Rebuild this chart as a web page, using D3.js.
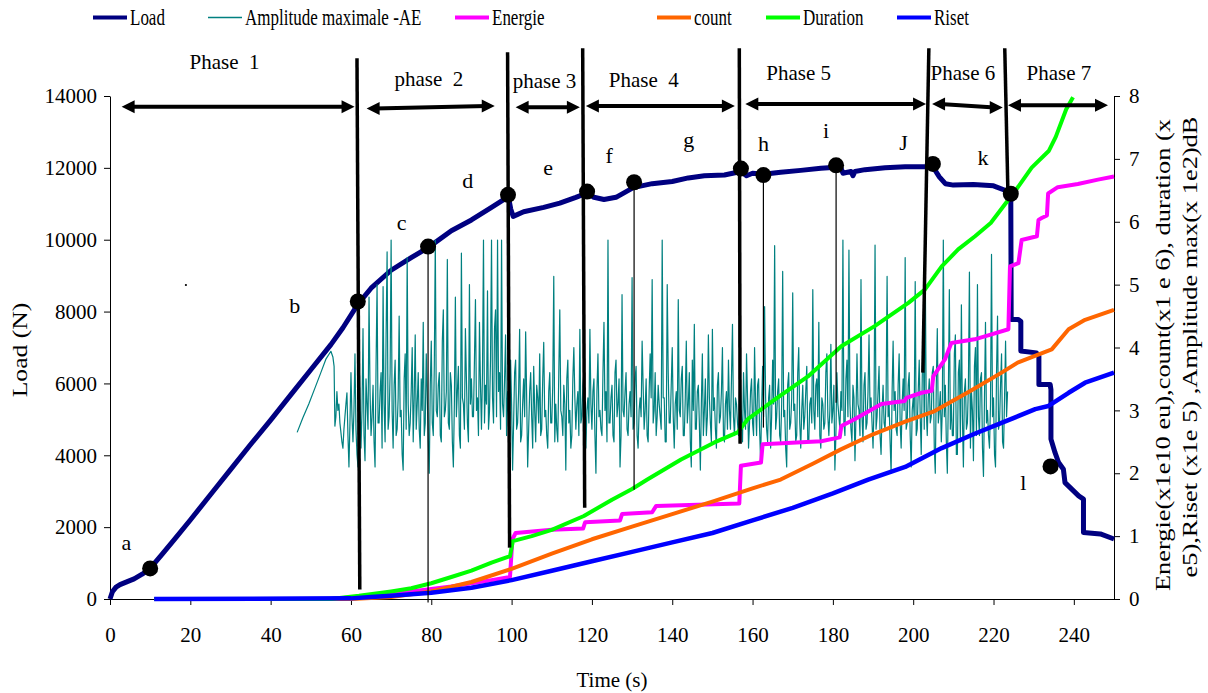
<!DOCTYPE html>
<html>
<head>
<meta charset="utf-8">
<script src="https://cdn.jsdelivr.net/npm/d3@7"></script>
<style>
  body { margin: 0; background: #fff; }
  text { font-family: "Liberation Serif", "Times New Roman", serif; fill: #000; }
</style>
</head>
<body>
<svg id="chart" width="1208" height="693"></svg>
<script>
// ---- data ----
var loadTime = [0, 0.6, 1.5, 2.5, 4, 6, 8, 10, 13, 16, 20, 25, 30, 35, 40, 45, 50, 55, 58, 61.7,
  65, 70, 75, 79.2, 85, 90, 95, 99.2, 99.8, 100.4, 103, 108, 112, 116, 118.8, 120.5, 123, 126,
  130.3, 135, 140, 144, 148, 153, 157.1, 158.5, 160, 162.7, 167, 172, 177, 180.8, 182, 182.5,
  184.5, 185, 185.5, 188, 193, 198, 204.9, 206.5, 208, 210, 215, 220, 223.5, 224.3, 224.4,
  226.1, 226.8, 226.8, 230.7, 231.3, 231.3, 234.1, 234.3, 234.3, 235.3, 236.2, 237.4, 237.8,
  241.2, 242.4, 242.4, 246.6, 250];
var loadValue = [0, 200, 330, 400, 470, 560, 690, 850, 1250, 1650, 2200, 2900, 3600, 4300, 4980,
  5680, 6380, 7080, 7550, 8200, 8650, 9150, 9500, 9780, 10250, 10550, 10900, 11200, 10850, 10650,
  10780, 10900, 11020, 11180, 11300, 11180, 11120, 11180, 11450, 11560, 11620, 11720, 11780,
  11800, 11900, 11780, 11850, 11820, 11880, 11930, 11990, 12020, 12000, 11850, 11900, 11780,
  11900, 11950, 12000, 12030, 12030, 11750, 11560, 11520, 11540, 11500, 11350, 11200, 7780,
  7780, 7730, 6900, 6850, 6760, 5970, 5970, 5830, 4450, 4080, 3800, 3610, 3240, 2870, 2780,
  1850, 1810, 1670];

// AE amplitude: a smooth start, then one sample every 0.25 s (rows of 5 s)
var aeRampTime = [46.6, 48, 49.5, 51, 52.5, 53.8, 55.0, 55.5, 55.8];
var aeRampValue = [2.65, 2.88, 3.1, 3.35, 3.6, 3.82, 3.94, 3.85, 3.7];
var aeStart = 56, aeStep = 0.25;
var aeValues = [
  2.75,2.9,3.3,3.0,3.1,2.8,2.65,2.5,2.4,2.7,2.9,3.1,3.28,2.6,2.1,2.8,3.6,2.9,2.5,3.0,
  3.9,2.7,2.3,2.1,3.9,3.2,2.4,3.0,4.3,2.6,2.2,3.5,3.1,2.7,4.8,3.3,2.6,2.9,3.4,2.5,
  2.1,3.7,5.0,2.8,2.8,3.3,3.6,2.4,4.97,3.1,2.5,4.2,5.52,2.7,2.9,3.6,5.71,3.0,2.4,3.4,
  3.8,2.6,2.7,3.2,4.5,2.9,3.0,2.3,2.05,3.5,3.9,2.7,5.43,3.1,2.6,2.8,3.3,4.0,2.5,3.2,
  4.2,2.7,3.1,3.6,2.7,2.4,3.5,3.0,4.4,2.6,2.8,3.9,3.2,2.5,2.0,3.4,4.1,2.8,2.6,3.7,
  5.71,3.0,2.9,3.4,3.6,2.6,2.5,4.1,4.6,2.9,3.0,3.3,5.4,2.8,2.7,3.6,3.4,2.5,2.1,3.1,
  4.8,2.9,3.3,3.7,2.6,2.4,5.5,3.2,3.1,2.7,4.3,3.5,2.8,2.5,5.0,3.1,3.5,2.9,2.9,3.8,
  4.76,3.0,3.2,2.6,4.4,3.4,2.7,3.6,5.71,2.8,3.4,3.1,4.9,2.7,3.0,3.8,5.71,3.2,2.8,4.3,
  4.6,2.9,5.71,3.3,3.6,2.7,5.71,3.1,2.9,3.5,4.2,2.6,3.3,2.9,2.6,3.8,3.1,2.05,2.8,3.6,
  3.8,2.7,2.8,3.3,4.29,2.5,2.6,3.1,3.5,2.9,4.25,3.2,2.1,2.7,3.3,3.6,2.9,2.4,3.7,3.0,
  2.5,3.4,3.2,2.8,3.9,2.6,2.7,3.5,4.08,2.9,3.0,2.6,2.4,3.3,3.6,2.8,2.8,3.4,5.13,2.5,
  3.1,2.7,2.5,3.6,4.6,3.0,2.9,2.6,3.4,3.1,2.05,3.5,3.8,2.8,3.0,2.4,2.6,3.5,4.0,3.2,
  2.7,3.1,3.3,2.6,4.29,2.8,2.9,3.4,3.6,2.5,2.4,3.0,3.2,2.8,4.29,3.1,2.7,3.3,3.5,2.6,
  2.0,3.3,3.9,2.9,3.0,2.7,2.6,3.6,4.4,3.0,3.3,2.5,5.71,2.8,2.8,3.2,3.4,2.6,2.5,3.6,
  3.8,2.9,3.1,3.5,2.1,2.6,4.84,3.0,2.9,3.3,3.6,2.7,2.6,3.1,3.3,2.9,5.11,2.7,2.8,3.5,
  3.7,2.6,2.4,3.0,3.2,2.9,4.1,3.4,2.7,3.0,3.5,2.6,2.5,3.3,3.9,3.2,5.08,2.8,3.0,3.6,
  2.6,2.9,3.4,3.1,2.9,2.7,5.71,3.2,3.2,2.5,2.5,5.0,3.6,2.8,2.8,3.4,4.0,2.9,2.4,3.1,
  3.3,2.7,4.76,3.0,2.9,3.5,3.7,2.6,2.6,3.2,4.1,2.8,3.1,3.6,2.5,2.1,3.8,3.0,4.37,2.7,
  2.7,3.3,3.4,2.8,2.05,3.1,3.9,2.6,3.0,3.5,2.6,2.9,4.2,3.2,2.8,2.5,4.29,3.0,3.2,2.7,
  2.4,3.4,3.6,2.8,2.9,3.3,4.0,2.6,2.5,3.1,3.3,2.7,3.8,3.0,2.7,3.5,4.37,2.9,2.6,3.2,
  3.1,2.8,2.6,3.3,3.4,2.9,2.5,3.6,3.0,2.7,3.9,3.2,2.4,2.8,3.3,3.5,2.8,2.6,4.0,3.1,
  2.6,3.4,3.5,2.7,2.2,3.0,3.7,2.9,4.65,3.2,2.7,2.5,3.2,3.4,2.4,2.9,3.8,3.1,5.62,2.7,
  2.9,3.3,3.5,2.6,2.5,3.1,5.21,2.9,3.0,2.4,2.1,3.4,3.6,2.7,2.8,3.2,4.87,3.0,3.1,2.5,
  2.6,3.6,4.0,2.8,2.4,3.0,3.4,2.7,2.9,3.3,3.7,2.5,2.5,3.1,3.2,2.8,4.92,3.0,2.7,3.4,
  3.5,2.9,4.4,2.6,2.4,3.2,3.1,2.7,2.8,3.6,3.9,2.9,2.6,3.0,4.05,2.8,3.0,3.4,2.05,2.6,
  3.6,3.1,2.9,2.7,3.3,3.0,5.71,2.8,2.6,3.5,3.8,2.9,5.55,3.1,2.7,2.5,3.4,3.2,2.2,2.9,
  3.9,3.1,3.0,2.6,5.08,2.9,2.5,3.4,3.6,2.7,2.8,3.3,4.2,3.0,3.2,2.8,2.4,3.1,5.63,2.7,
  2.9,3.3,3.7,2.6,2.3,3.0,3.4,2.8,2.7,3.2,5.13,2.9,3.1,2.5,2.0,3.3,4.1,3.0,3.3,2.7,
  2.6,3.4,3.9,2.8,2.4,3.1,3.5,3.0,5.43,2.7,2.8,3.4,3.6,2.6,2.1,3.0,3.2,2.9,5.05,2.6,
  2.7,3.3,3.8,2.9,2.3,3.5,4.4,2.7,5.27,3.0,2.6,3.2,3.5,2.8,2.9,3.6,3.7,2.4,2.0,3.4,
  4.3,2.8,3.0,3.3,2.5,3.0,5.71,2.9,3.4,2.5,2.0,3.2,4.92,2.7,3.1,2.6,2.6,3.9,4.2,2.3,
  2.3,3.6,3.8,2.5,4.68,2.9,2.1,3.3,3.5,2.7,2.8,3.4,5.2,2.4,3.3,3.0,2.2,3.7,4.0,2.6,
  5.0,2.9,2.6,3.5,3.6,2.4,1.95,3.2,4.4,2.8,3.0,2.6,2.4,3.1,5.48,2.9,3.2,2.3,2.1,3.6,
  4.5,2.7,2.8,3.4,3.9,2.5,2.4,3.2,4.1,2.9,3.3];

var energieTime = [11, 55, 65, 75, 85, 95, 99.6, 100.2, 101, 110, 117.8, 118.3, 127, 127.5, 135,
  136, 156.7, 157.1, 162.1, 162.5, 177.1, 181.7, 182.1, 185.4, 192.1, 197.9, 198.3, 202.1, 204.6,
  205.0, 207.9, 209.5, 215.3, 219.5, 223.7, 224.1, 226.2, 227.0, 230.8, 231.2, 232.0, 233.3,
  233.6, 236, 241, 246, 250];
var energieValue = [0, 0, 0.05, 0.12, 0.2, 0.3, 0.35, 0.95, 1.05, 1.1, 1.12, 1.22, 1.25, 1.35,
  1.38, 1.48, 1.52, 2.12, 2.17, 2.46, 2.51, 2.57, 2.75, 2.86, 3.1, 3.15, 3.2, 3.28, 3.31, 3.54,
  3.81, 4.07, 4.13, 4.21, 4.29, 5.29, 5.34, 5.71, 5.77, 6.03, 6.06, 6.1, 6.45, 6.55, 6.6, 6.67,
  6.72];

var countTime = [11, 60, 70, 80, 90, 100, 110, 120, 130, 140, 150, 160, 167, 175, 182, 190, 198,
  205, 214, 222, 226, 230, 234.5, 238.7, 242.8, 250];
var countValue = [0, 0, 0.03, 0.12, 0.27, 0.48, 0.72, 0.95, 1.15, 1.35, 1.55, 1.76, 1.9, 2.15,
  2.38, 2.62, 2.82, 2.98, 3.3, 3.6, 3.76, 3.86, 3.97, 4.29, 4.44, 4.6];

var durationTime = [11, 55, 62, 70, 75, 80, 85, 90, 95, 99.6, 100.3, 105, 110, 118, 125, 130,
  133.8, 142.2, 150.5, 156.3, 158.8, 165.5, 173.8, 182.1, 190.4, 198.8, 202.9, 207.1, 211.2,
  215.4, 219.3, 223.7, 225.2, 229.5, 233.8, 235.5, 238.1, 239.8];
var durationValue = [0, 0, 0.05, 0.12, 0.17, 0.25, 0.35, 0.45, 0.58, 0.68, 0.92, 1.0, 1.1, 1.32,
  1.58, 1.75, 1.9, 2.22, 2.49, 2.65, 2.86, 3.17, 3.54, 4.02, 4.34, 4.71, 4.92, 5.29, 5.56, 5.77,
  5.98, 6.35, 6.47, 6.86, 7.13, 7.35, 7.79, 7.98];

var risetTime = [11, 60, 65, 70, 80, 90, 100, 110, 120, 130, 140, 150, 160, 170, 180, 188.8, 198,
  207.1, 215, 222, 230.4, 233.7, 238.7, 242.8, 250];
var risetValue = [0, 0.01, 0.03, 0.05, 0.1, 0.18, 0.3, 0.45, 0.6, 0.75, 0.9, 1.05, 1.25, 1.45,
  1.68, 1.9, 2.1, 2.4, 2.62, 2.8, 3.02, 3.07, 3.28, 3.44, 3.6];

var timeTicks = [0, 20, 40, 60, 80, 100, 120, 140, 160, 180, 200, 220, 240];
var loadTicks = [0, 2000, 4000, 6000, 8000, 10000, 12000, 14000];
var rightTicks = [0, 1, 2, 3, 4, 5, 6, 7, 8];

// annotations, in data units (time, load)
var phaseNames = ["Phase  1", "phase  2", "phase 3", "Phase  4", "Phase 5", "Phase 6", "Phase 7"];
var phaseNameTime = [28.5, 79.4, 108.2, 132.9, 171.5, 212.4, 236.3];
var phaseNameLoad = [14750, 14270, 14220, 14260, 14450, 14450, 14450];
var phaseArrows = [[2.9, 13700, 60.9, 13700], [63.9, 13650, 95.8, 13720], [101, 13690, 117, 13690],
  [118.5, 13720, 155.6, 13720], [158.2, 13780, 203.2, 13780], [204.7, 13780, 222.3, 13680],
  [223.6, 13740, 248.5, 13740]];
var phaseLines = [[61.5, 15050, 62.2, 264], [99.0, 15220, 99.5, 1430], [117.7, 15330, 118.2, 2540],
  [156.7, 15330, 156.9, 4320], [203.9, 15330, 202.4, 6300], [222.8, 15330, 223.6, 11240]];

var pointNames = ["a", "b", "c", "d", "e", "f", "g", "h", "i", "J", "k", "l"];
var pointNameTime = [4.1, 46, 72.6, 89.1, 109.1, 124.3, 144.1, 162.7, 178.3, 197.6, 217.4, 227.4];
var pointNameLoad = [1376, 7965, 10270, 11440, 11800, 12140, 12580, 12480, 12840, 12500, 12090, 3045];
var dotTime = [10, 61.7, 79.2, 99.1, 118.8, 130.5, 157.1, 162.7, 180.8, 204.9, 224.3, 234.2];
var dotLoad = [850, 8280, 9810, 11250, 11340, 11600, 11980, 11800, 12070, 12110, 11280, 3690];
var dropTime = [79.2, 130.5, 162.7, 180.8];
var dropTop = [9810, 11600, 11800, 12070];
var dropBottom = [-100, 3040, 4770, 5460];
var strayDot = [18.9, 8740];

// ---- scales ----
var svg = d3.select("#chart");
var x = d3.scaleLinear().domain([0, 250]).range([110, 1114]);
var yLoad = d3.scaleLinear().domain([0, 14000]).range([599, 96]);
var yRight = d3.scaleLinear().domain([0, 8]).range([599, 96]);

// ---- axes ----
function styleAxis(g, size) {
  g.selectAll("path, line").attr("stroke", "#000").attr("stroke-width", 1);
  g.selectAll("text").attr("font-family", null).attr("font-size", size).attr("fill", "#000");
  g.attr("font-family", null);
}

var gx = svg.append("g").attr("transform", "translate(0,599)")
  .call(d3.axisBottom(x).tickValues(timeTicks).tickSize(6).tickSizeOuter(0).tickPadding(22));
styleAxis(gx, 21);
var gl = svg.append("g").attr("transform", "translate(110,0)")
  .call(d3.axisLeft(yLoad).tickValues(loadTicks).tickSize(6).tickSizeOuter(0).tickPadding(7)
    .tickFormat(d3.format("d")));
styleAxis(gl, 21);
var gr = svg.append("g").attr("transform", "translate(1114,0)")
  .call(d3.axisRight(yRight).tickValues(rightTicks).tickSize(6).tickSizeOuter(0).tickPadding(9));
styleAxis(gr, 21);

// the source figure is stretched a little vertically, so vertical titles run long
svg.append("text").attr("x", 612).attr("y", 687).attr("text-anchor", "middle")
  .attr("font-size", 21).text("Time (s)");
svg.append("text").attr("transform", "translate(27,350) rotate(-90) scale(1.22,1)")
  .attr("text-anchor", "middle").attr("font-size", 21).text("Load  (N)");
svg.append("text").attr("transform", "translate(1170,355) rotate(-90) scale(1.2,1)")
  .attr("text-anchor", "middle").attr("font-size", 22).text("Energie(x1e10 eu),count(x1 e 6), duration (x");
svg.append("text").attr("transform", "translate(1197,347) rotate(-90) scale(1.2,1)")
  .attr("text-anchor", "middle").attr("font-size", 22).text("e5),Riset (x1e 5) ,Amplitude max(x 1e2)dB");

// ---- series ----
function drawSeries(times, values, yScale, color, width) {
  svg.append("path")
    .datum(d3.zip(times, values))
    .attr("fill", "none")
    .attr("stroke", color)
    .attr("stroke-width", width)
    .attr("stroke-linejoin", "round")
    .attr("d", d3.line().x(function (d) { return x(d[0]); }).y(function (d) { return yScale(d[1]); }));
}

var aeTime = aeRampTime.concat(aeValues.map(function (v, i) { return aeStart + i * aeStep; }));
var aeAll = aeRampValue.concat(aeValues);

drawSeries(loadTime, loadValue, yLoad, "#000080", 5);
drawSeries(aeTime, aeAll, yRight, "#008080", 1.2);
drawSeries(energieTime, energieValue, yRight, "#ff00ff", 4);
drawSeries(countTime, countValue, yRight, "#ff6600", 4);
drawSeries(durationTime, durationValue, yRight, "#00ff00", 4);
drawSeries(risetTime, risetValue, yRight, "#0000ff", 4.5);

// ---- annotations ----
var ann = svg.append("g");
dropTime.forEach(function (t, i) {
  ann.append("line").attr("x1", x(t)).attr("x2", x(t))
    .attr("y1", yLoad(dropTop[i])).attr("y2", yLoad(dropBottom[i]))
    .attr("stroke", "#000").attr("stroke-width", 1.2);
});
phaseLines.forEach(function (p) {
  ann.append("line").attr("x1", x(p[0])).attr("y1", yLoad(p[1]))
    .attr("x2", x(p[2])).attr("y2", yLoad(p[3]))
    .attr("stroke", "#000").attr("stroke-width", 3.5);
});
phaseArrows.forEach(function (p) {
  var x1 = x(p[0]), y1 = yLoad(p[1]), x2 = x(p[2]), y2 = yLoad(p[3]);
  ann.append("line").attr("x1", x1 + 8).attr("y1", y1).attr("x2", x2 - 8).attr("y2", y2)
    .attr("stroke", "#000").attr("stroke-width", 4);
  ann.append("path").attr("d", "M" + x1 + "," + y1 + "L" + (x1 + 13) + "," + (y1 - 6.5) + "L" + (x1 + 13) + "," + (y1 + 6.5) + "Z");
  ann.append("path").attr("d", "M" + x2 + "," + y2 + "L" + (x2 - 13) + "," + (y2 - 6.5) + "L" + (x2 - 13) + "," + (y2 + 6.5) + "Z");
});
dotTime.forEach(function (t, i) {
  ann.append("circle").attr("cx", x(t)).attr("cy", yLoad(dotLoad[i])).attr("r", 8).attr("fill", "#000");
});
ann.append("circle").attr("cx", x(strayDot[0])).attr("cy", yLoad(strayDot[1])).attr("r", 1.1).attr("fill", "#000");
phaseNames.forEach(function (s, i) {
  ann.append("text").attr("x", x(phaseNameTime[i])).attr("y", yLoad(phaseNameLoad[i]))
    .attr("text-anchor", "middle").attr("font-size", 21)
    .style("white-space", "pre").text(s);
});
pointNames.forEach(function (s, i) {
  ann.append("text").attr("x", x(pointNameTime[i])).attr("y", yLoad(pointNameLoad[i]))
    .attr("text-anchor", "middle").attr("font-size", 22).text(s);
});

// ---- legend ----
var legendNames = ["Load", "Amplitude maximale -AE", "Energie", "count", "Duration", "Riset"];
var legendColors = ["#000080", "#008080", "#ff00ff", "#ff6600", "#00ff00", "#0000ff"];
var legendWidths = [4, 1.5, 4, 4, 4, 4];
var legendX = [93, 208, 455, 657, 766, 897];
var leg = svg.append("g");
legendNames.forEach(function (s, i) {
  leg.append("line").attr("x1", legendX[i]).attr("x2", legendX[i] + 34).attr("y1", 17.5).attr("y2", 17.5)
    .attr("stroke", legendColors[i]).attr("stroke-width", legendWidths[i]);
  leg.append("text").attr("transform", "translate(" + (legendX[i] + 37) + ",25) scale(1,1.3)")
    .attr("font-size", 17).text(s);
});
</script>
</body>
</html>
